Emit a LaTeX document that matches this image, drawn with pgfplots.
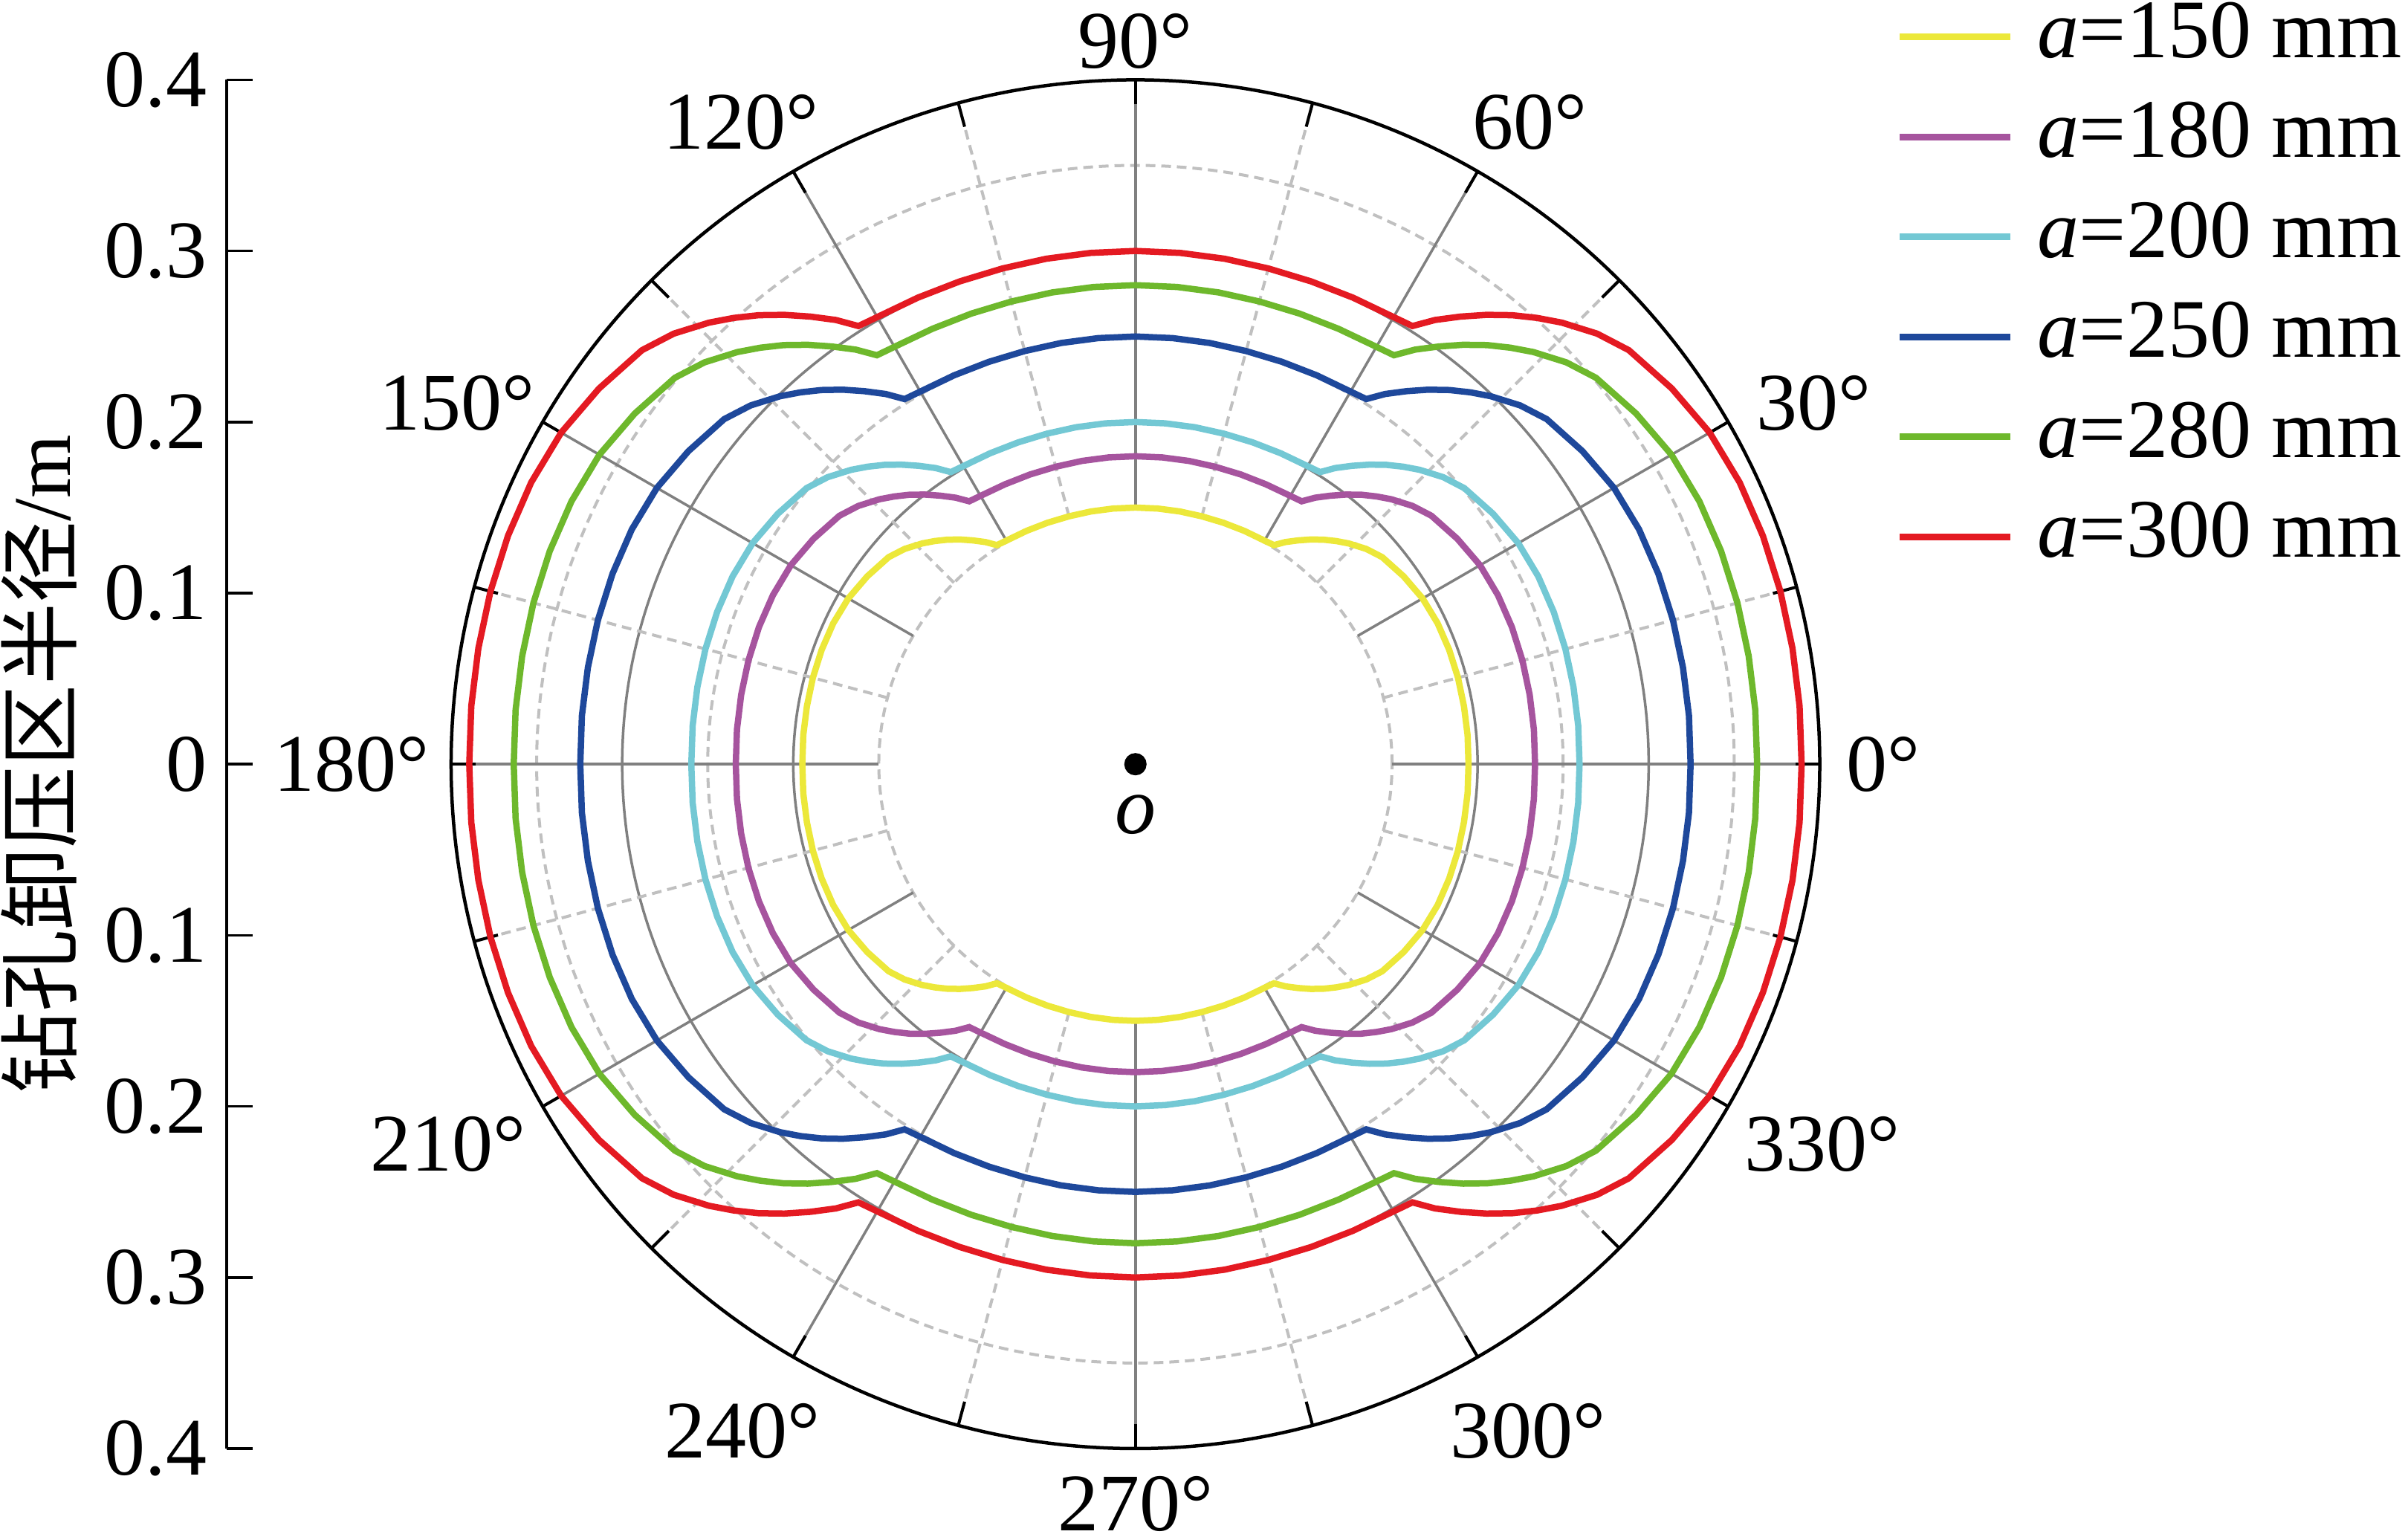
\documentclass[border=0pt]{standalone}
\usepackage{fontspec}
\setmainfont{Liberation Serif}
\newfontfamily\cjk{Noto Sans CJK SC}
\usepackage{pgfplots}
\usepackage{pgfplotstable}
\pgfplotsset{compat=1.18}
\usepgfplotslibrary{polar}

\definecolor{cyel}{RGB}{236,232,58}
\definecolor{cpur}{RGB}{166,84,158}
\definecolor{ccya}{RGB}{115,200,212}
\definecolor{cblu}{RGB}{30,72,155}
\definecolor{cgrn}{RGB}{110,184,44}
\definecolor{cred}{RGB}{228,26,34}
\definecolor{gsolid}{RGB}{128,128,128}
\definecolor{gdash}{RGB}{192,192,192}

\newcommand{\lab}{\fontsize{11}{13}\selectfont}
\newcommand{\legf}{\fontsize{11.2}{13}\selectfont}

\pgfplotstableread{
t r150 r180 r200 r250 r280 r300
0 0.1947 0.2336 0.2596 0.3245 0.3634 0.3894
5 0.1949 0.2338 0.2598 0.3248 0.3637 0.3897
10 0.1950 0.2340 0.2600 0.3250 0.3640 0.3900
15 0.1952 0.2342 0.2602 0.3253 0.3643 0.3903
20 0.1952 0.2342 0.2602 0.3253 0.3643 0.3903
25 0.1949 0.2338 0.2598 0.3248 0.3637 0.3897
30 0.1938 0.2326 0.2584 0.3230 0.3618 0.3876
35 0.1914 0.2297 0.2552 0.3190 0.3573 0.3828
40 0.1883 0.2259 0.2510 0.3138 0.3514 0.3765
43 0.1845 0.2214 0.2460 0.3075 0.3444 0.3690
46 0.1794 0.2153 0.2392 0.2990 0.3349 0.3588
48 0.1755 0.2106 0.2340 0.2925 0.3276 0.3510
50 0.1713 0.2056 0.2284 0.2855 0.3198 0.3426
52 0.1667 0.2000 0.2222 0.2778 0.3111 0.3333
54 0.1617 0.1940 0.2156 0.2695 0.3018 0.3234
56 0.1566 0.1879 0.2088 0.2610 0.2923 0.3132
57.7 0.1515 0.1818 0.2020 0.2525 0.2828 0.3030
60 0.1509 0.1811 0.2012 0.2515 0.2817 0.3018
65 0.1505 0.1805 0.2006 0.2508 0.2808 0.3009
70 0.1502 0.1802 0.2002 0.2503 0.2803 0.3003
75 0.1500 0.1800 0.2000 0.2500 0.2800 0.3000
80 0.1500 0.1800 0.2000 0.2500 0.2800 0.3000
85 0.1500 0.1800 0.2000 0.2500 0.2800 0.3000
90 0.1500 0.1800 0.2000 0.2500 0.2800 0.3000
95 0.1500 0.1800 0.2000 0.2500 0.2800 0.3000
100 0.1500 0.1800 0.2000 0.2500 0.2800 0.3000
105 0.1500 0.1800 0.2000 0.2500 0.2800 0.3000
110 0.1502 0.1802 0.2002 0.2503 0.2803 0.3003
115 0.1505 0.1805 0.2006 0.2508 0.2808 0.3009
120 0.1509 0.1811 0.2012 0.2515 0.2817 0.3018
122.3 0.1515 0.1818 0.2020 0.2525 0.2828 0.3030
124 0.1566 0.1879 0.2088 0.2610 0.2923 0.3132
126 0.1617 0.1940 0.2156 0.2695 0.3018 0.3234
128 0.1667 0.2000 0.2222 0.2778 0.3111 0.3333
130 0.1713 0.2056 0.2284 0.2855 0.3198 0.3426
132 0.1755 0.2106 0.2340 0.2925 0.3276 0.3510
134 0.1794 0.2153 0.2392 0.2990 0.3349 0.3588
137 0.1845 0.2214 0.2460 0.3075 0.3444 0.3690
140 0.1883 0.2259 0.2510 0.3138 0.3514 0.3765
145 0.1914 0.2297 0.2552 0.3190 0.3573 0.3828
150 0.1938 0.2326 0.2584 0.3230 0.3618 0.3876
155 0.1949 0.2338 0.2598 0.3248 0.3637 0.3897
160 0.1952 0.2342 0.2602 0.3253 0.3643 0.3903
165 0.1952 0.2342 0.2602 0.3253 0.3643 0.3903
170 0.1950 0.2340 0.2600 0.3250 0.3640 0.3900
175 0.1949 0.2338 0.2598 0.3248 0.3637 0.3897
180 0.1947 0.2336 0.2596 0.3245 0.3634 0.3894
185 0.1949 0.2338 0.2598 0.3248 0.3637 0.3897
190 0.1950 0.2340 0.2600 0.3250 0.3640 0.3900
195 0.1952 0.2342 0.2602 0.3253 0.3643 0.3903
200 0.1952 0.2342 0.2602 0.3253 0.3643 0.3903
205 0.1949 0.2338 0.2598 0.3248 0.3637 0.3897
210 0.1938 0.2326 0.2584 0.3230 0.3618 0.3876
215 0.1914 0.2297 0.2552 0.3190 0.3573 0.3828
220 0.1883 0.2259 0.2510 0.3138 0.3514 0.3765
223 0.1845 0.2214 0.2460 0.3075 0.3444 0.3690
226 0.1794 0.2153 0.2392 0.2990 0.3349 0.3588
228 0.1755 0.2106 0.2340 0.2925 0.3276 0.3510
230 0.1713 0.2056 0.2284 0.2855 0.3198 0.3426
232 0.1667 0.2000 0.2222 0.2778 0.3111 0.3333
234 0.1617 0.1940 0.2156 0.2695 0.3018 0.3234
236 0.1566 0.1879 0.2088 0.2610 0.2923 0.3132
237.7 0.1515 0.1818 0.2020 0.2525 0.2828 0.3030
240 0.1509 0.1811 0.2012 0.2515 0.2817 0.3018
245 0.1505 0.1805 0.2006 0.2508 0.2808 0.3009
250 0.1502 0.1802 0.2002 0.2503 0.2803 0.3003
255 0.1500 0.1800 0.2000 0.2500 0.2800 0.3000
260 0.1500 0.1800 0.2000 0.2500 0.2800 0.3000
265 0.1500 0.1800 0.2000 0.2500 0.2800 0.3000
270 0.1500 0.1800 0.2000 0.2500 0.2800 0.3000
275 0.1500 0.1800 0.2000 0.2500 0.2800 0.3000
280 0.1500 0.1800 0.2000 0.2500 0.2800 0.3000
285 0.1500 0.1800 0.2000 0.2500 0.2800 0.3000
290 0.1502 0.1802 0.2002 0.2503 0.2803 0.3003
295 0.1505 0.1805 0.2006 0.2508 0.2808 0.3009
300 0.1509 0.1811 0.2012 0.2515 0.2817 0.3018
302.3 0.1515 0.1818 0.2020 0.2525 0.2828 0.3030
304 0.1566 0.1879 0.2088 0.2610 0.2923 0.3132
306 0.1617 0.1940 0.2156 0.2695 0.3018 0.3234
308 0.1667 0.2000 0.2222 0.2778 0.3111 0.3333
310 0.1713 0.2056 0.2284 0.2855 0.3198 0.3426
312 0.1755 0.2106 0.2340 0.2925 0.3276 0.3510
314 0.1794 0.2153 0.2392 0.2990 0.3349 0.3588
317 0.1845 0.2214 0.2460 0.3075 0.3444 0.3690
320 0.1883 0.2259 0.2510 0.3138 0.3514 0.3765
325 0.1914 0.2297 0.2552 0.3190 0.3573 0.3828
330 0.1938 0.2326 0.2584 0.3230 0.3618 0.3876
335 0.1949 0.2338 0.2598 0.3248 0.3637 0.3897
340 0.1952 0.2342 0.2602 0.3253 0.3643 0.3903
345 0.1952 0.2342 0.2602 0.3253 0.3643 0.3903
350 0.1950 0.2340 0.2600 0.3250 0.3640 0.3900
355 0.1949 0.2338 0.2598 0.3248 0.3637 0.3897
360 0.1947 0.2336 0.2596 0.3245 0.3634 0.3894
}\radii

\begin{document}
\begin{tikzpicture}
\begin{axis}[
  x=230.2pt, y=230.2pt,
  xmin=-0.5311, xmax=0.4, ymin=-0.4, ymax=0.4,
  axis x line=none, axis y line=left,
  axis line style={-, line width=0.45pt, black},
  ytick={-0.4,-0.3,-0.2,-0.1,0,0.1,0.2,0.3,0.4},
  yticklabels={0.4,0.3,0.2,0.1,0,0.1,0.2,0.3,0.4},
  tick align=inside, major tick length=3.5pt,
  ytick style={line width=0.35pt, black},
  yticklabel style={font=\lab, inner sep=0pt, xshift=-2.5pt},
  clip=false,
  legend style={at={(axis description cs:1.0473,1.0594)}, anchor=north west,
    draw=none, fill=none, inner sep=0pt, row sep=5.75pt, font=\legf,
    nodes={inner sep=0pt, text height=7.7pt, text depth=0pt},
    /tikz/every odd column/.append style={column sep=3.2pt}},
  legend cell align=left,
  legend image code/.code={\draw[#1, line width=0.9pt] (0pt,-1.1pt) -- (14.9pt,-1.1pt);},
]
% grid
\draw[gdash, line width=0.4pt, dash pattern=on 1.3pt off 0.8pt] (axis cs:0,0) circle[radius=34.53pt];
\draw[gdash, line width=0.4pt, dash pattern=on 1.3pt off 0.8pt] (axis cs:0,0) circle[radius=57.55pt];
\draw[gdash, line width=0.4pt, dash pattern=on 1.3pt off 0.8pt] (axis cs:0,0) circle[radius=80.57pt];
\draw[gsolid, line width=0.35pt] (axis cs:0,0) circle[radius=46.04pt];
\draw[gsolid, line width=0.35pt] (axis cs:0,0) circle[radius=69.06pt];
\pgfplotsinvokeforeach{15,45,...,345}{
  \draw[gdash, line width=0.4pt, dash pattern=on 1.3pt off 0.8pt, shift={(axis cs:0,0)}] (#1:34.53pt) -- (#1:92.08pt);
}
\pgfplotsinvokeforeach{0,30,...,330}{
  \draw[gsolid, line width=0.35pt, shift={(axis cs:0,0)}] (#1:34.53pt) -- (#1:92.08pt);
}
\pgfplotsinvokeforeach{0,15,...,345}{
  \draw[black, line width=0.4pt, shift={(axis cs:0,0)}] (#1:88.8pt) -- (#1:92.08pt);
}
\draw[black, line width=0.45pt] (axis cs:0,0) circle[radius=92.08pt];

% curves
\addplot[cyel, line width=0.85pt, data cs=polar] table[x=t, y=r150] {\radii};
\addlegendentry{\textit{a}=150 mm}
\addplot[cpur, line width=0.85pt, data cs=polar] table[x=t, y=r180] {\radii};
\addlegendentry{\textit{a}=180 mm}
\addplot[ccya, line width=0.85pt, data cs=polar] table[x=t, y=r200] {\radii};
\addlegendentry{\textit{a}=200 mm}
\addplot[cblu, line width=0.85pt, data cs=polar] table[x=t, y=r250] {\radii};
\addlegendentry{\textit{a}=250 mm}
\addplot[cgrn, line width=0.85pt, data cs=polar] table[x=t, y=r280] {\radii};
\addlegendentry{\textit{a}=280 mm}
\addplot[cred, line width=0.85pt, data cs=polar] table[x=t, y=r300] {\radii};
\addlegendentry{\textit{a}=300 mm}

\addplot[only marks, mark=*, mark size=1.3pt, black, forget plot] coordinates {(0,0)};
\node[font=\lab\itshape] at (axis cs:0,-0.0296) {o};

% angle labels
\node[font=\lab] at (axis cs:0.4373,0) {0°};
\node[font=\lab] at (axis cs:0.3967,0.211) {30°};
\node[font=\lab] at (axis cs:0.2304,0.3752) {60°};
\node[font=\lab] at (axis cs:0,0.4225) {90°};
\node[font=\lab] at (axis cs:-0.2304,0.3752) {120°};
\node[font=\lab] at (axis cs:-0.3967,0.211) {150°};
\node[font=\lab] at (axis cs:-0.4583,0) {180°};
\node[font=\lab] at (axis cs:-0.4017,-0.2222) {210°};
\node[font=\lab] at (axis cs:-0.2295,-0.3898) {240°};
\node[font=\lab] at (axis cs:0,-0.4325) {270°};
\node[font=\lab] at (axis cs:0.2295,-0.3898) {300°};
\node[font=\lab] at (axis cs:0.4017,-0.2222) {330°};

\node[rotate=90, font=\lab] at (axis cs:-0.641,0) {{\cjk 钻孔卸压区半径}/m};

\coordinate (BL) at (axis cs:-0.6637,-0.4534);
\coordinate (TR) at (axis cs:0.7421,0.4467);
\end{axis}
\pgfresetboundingbox
\path[use as bounding box] (BL) rectangle (TR);
\end{tikzpicture}
\end{document}
